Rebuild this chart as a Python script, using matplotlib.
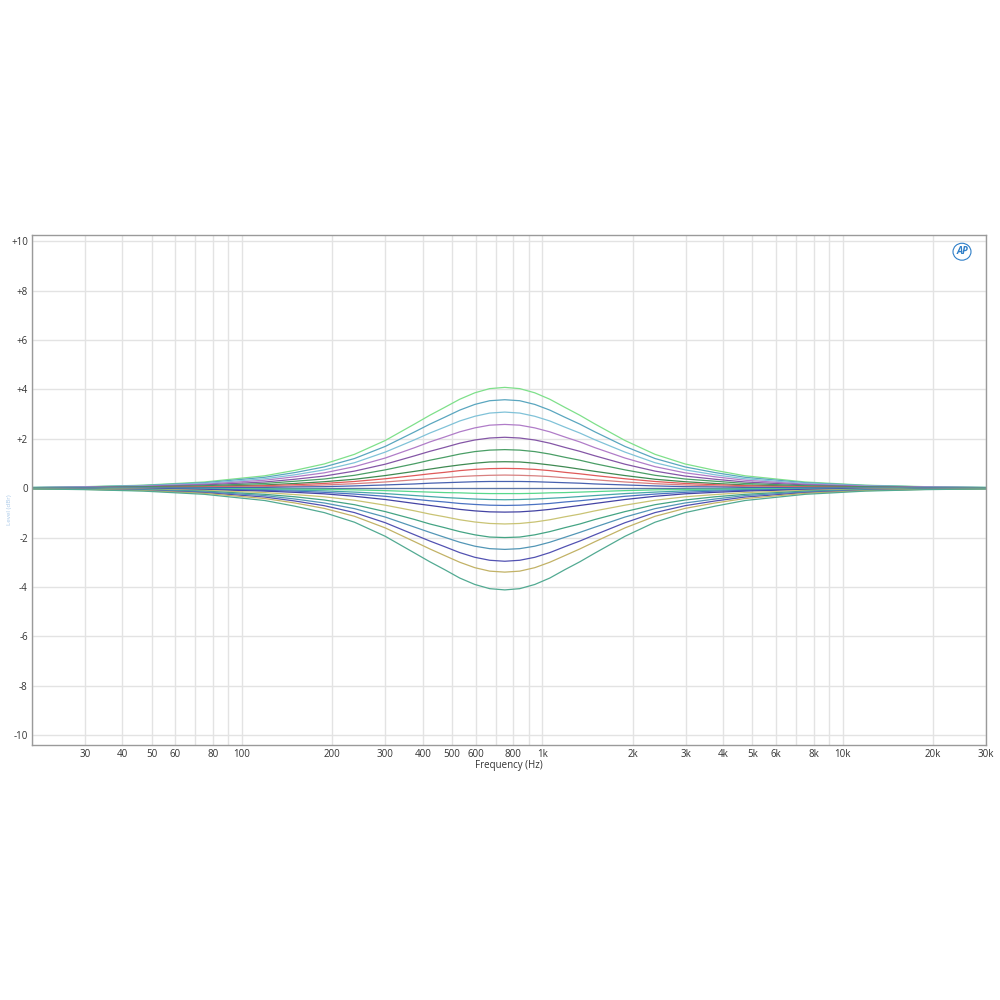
import numpy as np
import matplotlib
matplotlib.use("Agg")
from matplotlib import pyplot as plt
from matplotlib.ticker import FixedLocator, NullFormatter

freqs = [20, 30, 47, 75, 119, 150, 188, 237, 300, 376, 422, 473, 531, 596, 668, 750,
         841, 944, 1059, 1189, 1334, 1496, 1884, 2372, 2986, 3759, 4732, 7500, 11887, 18839, 30000]

# level (dB) of each curve, top to bottom
curves = [
    [0.03, 0.06, 0.12, 0.25, 0.50, 0.72, 0.98, 1.37, 1.93, 2.60, 2.95, 3.27, 3.60, 3.86, 4.03, 4.08,
     4.03, 3.86, 3.60, 3.27, 2.95, 2.60, 1.93, 1.37, 0.98, 0.72, 0.50, 0.25, 0.12, 0.06, 0.03],
    [0.03, 0.05, 0.11, 0.22, 0.44, 0.63, 0.86, 1.20, 1.69, 2.28, 2.59, 2.87, 3.16, 3.39, 3.54, 3.58,
     3.54, 3.39, 3.16, 2.87, 2.59, 2.28, 1.69, 1.20, 0.86, 0.63, 0.44, 0.22, 0.11, 0.05, 0.03],
    [0.02, 0.05, 0.09, 0.19, 0.38, 0.54, 0.74, 1.03, 1.46, 1.96, 2.23, 2.47, 2.72, 2.91, 3.04, 3.08,
     3.04, 2.91, 2.72, 2.47, 2.23, 1.96, 1.46, 1.03, 0.74, 0.54, 0.38, 0.19, 0.09, 0.05, 0.02],
    [0.02, 0.04, 0.08, 0.16, 0.32, 0.46, 0.62, 0.87, 1.22, 1.64, 1.87, 2.07, 2.28, 2.44, 2.55, 2.58,
     2.55, 2.44, 2.28, 2.07, 1.87, 1.64, 1.22, 0.87, 0.62, 0.46, 0.32, 0.16, 0.08, 0.04, 0.02],
    [0.02, 0.03, 0.06, 0.13, 0.25, 0.36, 0.49, 0.69, 0.97, 1.31, 1.49, 1.65, 1.82, 1.95, 2.03, 2.06,
     2.03, 1.95, 1.82, 1.65, 1.49, 1.31, 0.97, 0.69, 0.49, 0.36, 0.25, 0.13, 0.06, 0.03, 0.02],
    [0.01, 0.02, 0.05, 0.10, 0.19, 0.28, 0.37, 0.52, 0.74, 0.99, 1.13, 1.25, 1.38, 1.48, 1.54, 1.56,
     1.54, 1.48, 1.38, 1.25, 1.13, 0.99, 0.74, 0.52, 0.37, 0.28, 0.19, 0.10, 0.05, 0.02, 0.01],
    [0.01, 0.02, 0.03, 0.07, 0.13, 0.19, 0.26, 0.36, 0.51, 0.68, 0.77, 0.86, 0.94, 1.01, 1.06, 1.07,
     1.06, 1.01, 0.94, 0.86, 0.77, 0.68, 0.51, 0.36, 0.26, 0.19, 0.13, 0.07, 0.03, 0.02, 0.01],
    [0.01, 0.01, 0.02, 0.05, 0.10, 0.14, 0.19, 0.27, 0.38, 0.51, 0.58, 0.64, 0.71, 0.76, 0.79, 0.80,
     0.79, 0.76, 0.71, 0.64, 0.58, 0.51, 0.38, 0.27, 0.19, 0.14, 0.10, 0.05, 0.02, 0.01, 0.01],
    [0.00, 0.01, 0.02, 0.03, 0.06, 0.09, 0.13, 0.18, 0.25, 0.34, 0.38, 0.42, 0.47, 0.50, 0.52, 0.53,
     0.52, 0.50, 0.47, 0.42, 0.38, 0.34, 0.25, 0.18, 0.13, 0.09, 0.06, 0.03, 0.02, 0.01, 0.00],
    [0.00, 0.00, 0.01, 0.02, 0.03, 0.05, 0.06, 0.09, 0.13, 0.17, 0.20, 0.22, 0.24, 0.26, 0.27, 0.27,
     0.27, 0.26, 0.24, 0.22, 0.20, 0.17, 0.13, 0.09, 0.06, 0.05, 0.03, 0.02, 0.01, 0.00, 0.00],
    [0.00, 0.00, 0.00, 0.00, 0.00, 0.00, 0.00, 0.00, 0.00, 0.00, 0.00, 0.00, 0.00, 0.00, 0.00, 0.00,
     0.00, 0.00, 0.00, 0.00, 0.00, 0.00, 0.00, 0.00, 0.00, 0.00, 0.00, 0.00, 0.00, 0.00, 0.00],
    [0.00, 0.00, -0.01, -0.01, -0.03, -0.04, -0.05, -0.07, -0.10, -0.14, -0.16, -0.18, -0.19, -0.21, -0.22, -0.22,
     -0.22, -0.21, -0.19, -0.18, -0.16, -0.14, -0.10, -0.07, -0.05, -0.04, -0.03, -0.01, -0.01, 0.00, 0.00],
    [0.00, -0.01, -0.01, -0.03, -0.06, -0.08, -0.11, -0.16, -0.22, -0.30, -0.34, -0.38, -0.41, -0.44, -0.46, -0.47,
     -0.46, -0.44, -0.41, -0.38, -0.34, -0.30, -0.22, -0.16, -0.11, -0.08, -0.06, -0.03, -0.01, -0.01, 0.00],
    [-0.01, -0.01, -0.02, -0.04, -0.09, -0.12, -0.17, -0.24, -0.33, -0.45, -0.51, -0.56, -0.62, -0.66, -0.69, -0.70,
     -0.69, -0.66, -0.62, -0.56, -0.51, -0.45, -0.33, -0.24, -0.17, -0.12, -0.09, -0.04, -0.02, -0.01, -0.01],
    [-0.01, -0.01, -0.03, -0.06, -0.12, -0.17, -0.23, -0.33, -0.46, -0.62, -0.70, -0.78, -0.86, -0.92, -0.96, -0.97,
     -0.96, -0.92, -0.86, -0.78, -0.70, -0.62, -0.46, -0.33, -0.23, -0.17, -0.12, -0.06, -0.03, -0.01, -0.01],
    [-0.01, -0.02, -0.04, -0.09, -0.18, -0.26, -0.35, -0.49, -0.69, -0.92, -1.05, -1.16, -1.28, -1.37, -1.43, -1.45,
     -1.43, -1.37, -1.28, -1.16, -1.05, -0.92, -0.69, -0.49, -0.35, -0.26, -0.18, -0.09, -0.04, -0.02, -0.01],
    [-0.01, -0.03, -0.06, -0.12, -0.25, -0.35, -0.48, -0.67, -0.95, -1.27, -1.45, -1.60, -1.76, -1.89, -1.98, -2.00,
     -1.98, -1.89, -1.76, -1.60, -1.45, -1.27, -0.95, -0.67, -0.48, -0.35, -0.25, -0.12, -0.06, -0.03, -0.01],
    [-0.02, -0.04, -0.07, -0.15, -0.30, -0.44, -0.60, -0.83, -1.17, -1.58, -1.79, -1.99, -2.19, -2.35, -2.45, -2.48,
     -2.45, -2.35, -2.19, -1.99, -1.79, -1.58, -1.17, -0.83, -0.60, -0.44, -0.30, -0.15, -0.07, -0.04, -0.02],
    [-0.02, -0.04, -0.09, -0.18, -0.36, -0.52, -0.71, -0.99, -1.40, -1.89, -2.14, -2.37, -2.61, -2.80, -2.92, -2.96,
     -2.92, -2.80, -2.61, -2.37, -2.14, -1.89, -1.40, -0.99, -0.71, -0.52, -0.36, -0.18, -0.09, -0.04, -0.02],
    [-0.03, -0.05, -0.10, -0.21, -0.42, -0.60, -0.82, -1.14, -1.61, -2.17, -2.46, -2.73, -3.00, -3.22, -3.36, -3.40,
     -3.36, -3.22, -3.00, -2.73, -2.46, -2.17, -1.61, -1.14, -0.82, -0.60, -0.42, -0.21, -0.10, -0.05, -0.03],
    [-0.03, -0.06, -0.12, -0.25, -0.50, -0.73, -0.99, -1.38, -1.95, -2.63, -2.98, -3.30, -3.64, -3.90, -4.07, -4.12,
     -4.07, -3.90, -3.64, -3.30, -2.98, -2.63, -1.95, -1.38, -0.99, -0.73, -0.50, -0.25, -0.12, -0.06, -0.03],
]

colors = ["#7ee08a", "#5aa6bf", "#80c2d8", "#b07cc8", "#8456a6", "#4a9e66",
          "#3f8a52", "#e05a5a", "#d88080", "#4862b0", "#5a74a6", "#58d88c",
          "#48a8a8", "#4a72c2", "#4444a4", "#c9c374", "#44a484", "#5296b6",
          "#5252b2", "#c2b266", "#52aa92"]

x_ticks = [30, 40, 50, 60, 80, 100, 200, 300, 400, 500, 600, 800,
           1000, 2000, 3000, 4000, 5000, 6000, 8000, 10000, 20000, 30000]
x_labels = ["30", "40", "50", "60", "80", "100", "200", "300", "400", "500", "600", "800",
            "1k", "2k", "3k", "4k", "5k", "6k", "8k", "10k", "20k", "30k"]
y_ticks = [10, 8, 6, 4, 2, 0, -2, -4, -6, -8, -10]
y_labels = ["+10", "+8", "+6", "+4", "+2", "0", "-2", "-4", "-6", "-8", "-10"]

plt.rcParams['font.family'] = ['Open Sans', 'DejaVu Sans']

fig = plt.figure(figsize=(10, 10), dpi=100)
ax = fig.add_axes([0.032, 0.255, 0.954, 0.51])

# grid at every 1..9 x decade
minor = [m * 10 ** e for e in range(1, 5) for m in range(1, 10)]
minor = [v for v in minor if 20 <= v <= 30000]
for v in minor:
    ax.axvline(v, color="#e3e3e3", lw=1.0, zorder=0)
for v in y_ticks:
    ax.axhline(v, color="#e3e3e3", lw=1.0, zorder=0)

for c, y in zip(colors, curves):
    ax.plot(freqs, y, color=c, lw=0.9, zorder=2)

ax.set_xscale("log")
ax.set_xlim(20, 30000)
ax.set_ylim(-10.4, 10.25)
ax.xaxis.set_major_locator(FixedLocator(x_ticks))
ax.set_xticklabels(x_labels)
ax.xaxis.set_minor_locator(FixedLocator([]))
ax.xaxis.set_minor_formatter(NullFormatter())
ax.set_yticks(y_ticks)
ax.set_yticklabels(y_labels)
ax.tick_params(axis="both", length=0, labelsize=7, colors="#333333", pad=3)
for s in ax.spines.values():
    s.set_color("#9a9a9a")
    s.set_linewidth(1.0)

ax.set_xlabel("Frequency (Hz)", fontsize=7, color="#333333", labelpad=0)
fig.text(0.009, 0.49, "Level (dBr)", rotation=90, fontsize=4.5,
         color="#a8c8e8", ha="center", va="center")
ax.text(0.981, 0.978, "AP", transform=ax.transAxes, ha="right", va="top",
        fontsize=7, fontstyle="italic", fontweight="bold", color="#2f7fc8",
        bbox=dict(boxstyle="ellipse,pad=0.05", fc="none", ec="#2f7fc8", lw=0.8))

fig.savefig("out.png", dpi=100, facecolor="white")
